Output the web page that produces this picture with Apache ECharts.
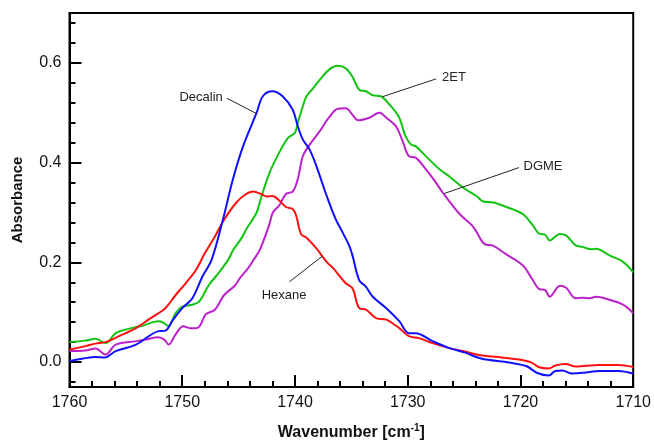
<!DOCTYPE html>
<html>
<head>
<meta charset="utf-8">
<script src="https://cdn.jsdelivr.net/npm/echarts@6/dist/echarts.min.js"></script>
<style>
  html, body { margin: 0; padding: 0; background: #fff; }
  #chart { width: 654px; height: 446px; }
</style>
</head>
<body>
<div id="chart"></div>
<script>
// FTIR carbonyl band of the same solute in four solvents

const hexaneWn = [1760, 1758.6, 1757.7, 1756.8, 1755.6, 1754.1, 1753.0, 1752.1, 1751.5, 1750.6, 1749.7, 1748.8, 1748.0, 1747.1, 1746.3, 1745.2, 1744.4, 1743.7, 1743.0, 1742.5, 1742.0, 1741.4, 1740.8, 1740.2, 1739.9, 1739.45, 1739.0, 1738.1, 1737.2, 1736.6, 1735.5, 1734.9, 1734.3, 1733.7, 1732.8, 1731.9, 1730.75, 1729.9, 1729.0, 1727.8, 1726.3, 1724.9, 1723.4, 1722.0, 1720.1, 1719.0, 1718.4, 1717.5, 1716.9, 1716.0, 1715.1, 1713.0, 1711.3, 1710];
const hexaneAbs = [0.025, 0.032, 0.037, 0.040, 0.052, 0.068, 0.085, 0.098, 0.108, 0.134, 0.158, 0.184, 0.218, 0.252, 0.285, 0.320, 0.336, 0.342, 0.337, 0.332, 0.333, 0.324, 0.311, 0.307, 0.294, 0.256, 0.250, 0.228, 0.201, 0.188, 0.158, 0.148, 0.108, 0.105, 0.088, 0.085, 0.068, 0.052, 0.048, 0.038, 0.028, 0.021, 0.013, 0.010, 0.005, -0.001, -0.010, -0.013, -0.007, -0.004, -0.009, -0.006, -0.006, -0.010];

const decalinWn = [1760, 1758.8, 1757.7, 1756.9, 1755.9, 1754.1, 1752.1, 1751.5, 1750.9, 1750.0, 1749.1, 1748.2, 1747.4, 1746.4, 1745.5, 1744.6, 1743.4, 1742.85, 1742.0, 1741.1, 1740.2, 1739.75, 1739.3, 1738.7, 1738.1, 1737.2, 1736.4, 1735.8, 1735.2, 1734.9, 1734.3, 1733.7, 1733.1, 1731.9, 1730.75, 1729.9, 1729.3, 1727.8, 1726.3, 1724.9, 1723.5, 1721.0, 1719.5, 1718.5, 1717.5, 1716.9, 1716.3, 1715.4, 1714.2, 1713.0, 1711.3, 1710];
const decalinAbs = [0.002, 0.007, 0.010, 0.009, 0.022, 0.035, 0.062, 0.063, 0.082, 0.108, 0.128, 0.172, 0.205, 0.285, 0.367, 0.433, 0.500, 0.533, 0.543, 0.533, 0.506, 0.473, 0.446, 0.426, 0.393, 0.334, 0.287, 0.261, 0.234, 0.214, 0.164, 0.151, 0.131, 0.108, 0.082, 0.058, 0.058, 0.042, 0.028, 0.019, 0.007, -0.001, -0.008, -0.022, -0.027, -0.018, -0.017, -0.023, -0.021, -0.018, -0.018, -0.023];

const etWn = [1760, 1758.6, 1757.7, 1756.8, 1755.9, 1754.7, 1753.5, 1752.1, 1751.7, 1751.2, 1750.6, 1750.0, 1749.1, 1748.5, 1747.65, 1746.8, 1745.9, 1745.5, 1744.7, 1744.3, 1743.4, 1743.0, 1742.25, 1741.4, 1740.6, 1740.0, 1739.75, 1739.3, 1739.0, 1738.4, 1737.8, 1737.0, 1736.2, 1735.5, 1734.9, 1734.3, 1733.7, 1733.1, 1732.4, 1731.6, 1730.75, 1730.2, 1729.7, 1729.3, 1728.4, 1727.2, 1726.3, 1725.1, 1723.9, 1723.3, 1722.4, 1721.25, 1719.8, 1718.9, 1718.3, 1717.85, 1717.4, 1716.5, 1715.95, 1715.1, 1714.5, 1713.7, 1713.3, 1712.1, 1710.9, 1710];
const etAbs = [0.040, 0.043, 0.047, 0.038, 0.058, 0.067, 0.073, 0.082, 0.079, 0.072, 0.098, 0.111, 0.115, 0.121, 0.154, 0.178, 0.206, 0.224, 0.250, 0.267, 0.300, 0.330, 0.380, 0.420, 0.450, 0.460, 0.480, 0.513, 0.532, 0.549, 0.566, 0.586, 0.594, 0.589, 0.572, 0.546, 0.543, 0.535, 0.533, 0.516, 0.490, 0.453, 0.436, 0.433, 0.413, 0.387, 0.372, 0.350, 0.333, 0.322, 0.320, 0.311, 0.297, 0.274, 0.257, 0.256, 0.244, 0.257, 0.254, 0.234, 0.231, 0.226, 0.227, 0.214, 0.201, 0.180];

const dgmeWn = [1760, 1758.6, 1757.7, 1756.8, 1755.9, 1754.1, 1753.25, 1752.1, 1751.6, 1751.2, 1750.6, 1749.9, 1749.3, 1748.8, 1748.45, 1747.9, 1747.1, 1746.3, 1745.3, 1744.9, 1744.1, 1743.7, 1743.1, 1742.3, 1741.96, 1741.4, 1740.8, 1740.2, 1739.75, 1739.3, 1738.7, 1737.8, 1737.0, 1736.2, 1735.5, 1734.9, 1734.4, 1733.4, 1732.8, 1732.5, 1731.9, 1731.05, 1730.5, 1729.9, 1729.3, 1728.4, 1727.5, 1726.9, 1725.4, 1724.3, 1723.9, 1723.2, 1722.4, 1721.25, 1719.8, 1718.9, 1718.3, 1717.85, 1717.4, 1716.5, 1715.95, 1715.1, 1714.5, 1713.85, 1713.3, 1712.1, 1710.9, 1710];
const dgmeAbs = [0.022, 0.023, 0.027, 0.015, 0.035, 0.042, 0.045, 0.050, 0.045, 0.035, 0.055, 0.072, 0.068, 0.068, 0.072, 0.096, 0.105, 0.134, 0.154, 0.168, 0.190, 0.204, 0.226, 0.274, 0.300, 0.314, 0.337, 0.342, 0.367, 0.413, 0.436, 0.463, 0.490, 0.508, 0.509, 0.496, 0.485, 0.490, 0.498, 0.500, 0.490, 0.473, 0.446, 0.413, 0.410, 0.387, 0.360, 0.340, 0.297, 0.274, 0.261, 0.237, 0.233, 0.216, 0.194, 0.164, 0.146, 0.145, 0.131, 0.153, 0.149, 0.128, 0.129, 0.128, 0.131, 0.125, 0.115, 0.098];

// axis ticks
const xMajorTicks = [1760, 1750, 1740, 1730, 1720, 1710];
const yMajorTicks = [0, 0.2, 0.4, 0.6];
const yMinorTicks = [-0.04, 0.04, 0.08, 0.12, 0.16, 0.24, 0.28, 0.32, 0.36, 0.44, 0.48, 0.52, 0.56, 0.64, 0.68];

// callouts in data coordinates: leader line from -> to, text anchor
const callouts = [
  { text: 'Decalin', from: [1743.38, 0.498], to: [1746.04, 0.529], at: [1746.4, 0.530], align: 'right' },
  { text: '2ET', from: [1732.26, 0.532], to: [1727.47, 0.568], at: [1726.95, 0.570], align: 'left' },
  { text: 'DGME', from: [1726.77, 0.338], to: [1720.13, 0.390], at: [1719.73, 0.393], align: 'left' },
  { text: 'Hexane', from: [1737.54, 0.213], to: [1740.49, 0.161], at: [1740.97, 0.1345], align: 'center' }
];

const FONT = 'Liberation Sans, Arial, sans-serif';

function pairs(xs, ys) { return xs.map((x, i) => [x, ys[i]]); }

function lineSeries(name, xs, ys, color) {
  return {
    name: name,
    type: 'line',
    data: pairs(xs, ys),
    smooth: 0.35,
    showSymbol: false,
    symbol: 'none',
    lineStyle: { color: color, width: 2 },
    itemStyle: { color: color },
    animation: false
  };
}

const chart = echarts.init(document.getElementById('chart'), null, { renderer: 'canvas' });

chart.setOption({
  animation: false,
  backgroundColor: '#fff',
  grid: {
    left: 69.5, right: 20, top: 13, bottom: 56,
    show: true, borderColor: '#000', borderWidth: 2, backgroundColor: 'transparent'
  },
  xAxis: {
    type: 'value',
    min: 1710, max: 1760, interval: 10,
    inverse: true,
    axisLine: { show: true, onZero: false, lineStyle: { color: '#000', width: 2 } },
    axisTick: { show: true, inside: true, length: 12, customValues: xMajorTicks, lineStyle: { color: '#000', width: 2 } },
    minorTick: { show: true, splitNumber: 5, length: 6, lineStyle: { color: '#000', width: 2 } },
    axisLabel: { color: '#111', fontSize: 16, fontFamily: FONT, margin: 8, customValues: xMajorTicks, formatter: v => String(v) },
    splitLine: { show: false },
    minorSplitLine: { show: false },
    name: '{t|Wavenumber [cm}{s|-1}{t|]}',
    nameLocation: 'middle',
    nameGap: 36,
    nameTextStyle: {
      rich: {
        t: { fontSize: 16, fontWeight: 'bold', fontFamily: FONT, color: '#111', lineHeight: 20 },
        s: { fontSize: 10, fontWeight: 'bold', fontFamily: FONT, color: '#111', verticalAlign: 'top', lineHeight: 20, padding: [0, 0, 6, 0] }
      }
    }
  },
  yAxis: [
    {
      type: 'value',
      min: -0.05, max: 0.7,
      position: 'left',
      axisLine: { show: true, onZero: false, lineStyle: { color: '#000', width: 2 } },
      axisTick: { show: true, inside: true, length: 12, customValues: yMajorTicks, lineStyle: { color: '#000', width: 2 } },
      axisLabel: { color: '#111', fontSize: 16, fontFamily: FONT, margin: 8, customValues: yMajorTicks, formatter: v => v.toFixed(1) },
      splitLine: { show: false },
      name: 'Absorbance',
      nameLocation: 'middle',
      nameGap: 44,
      nameTextStyle: { fontSize: 15, fontWeight: 'bold', fontFamily: FONT, color: '#111' }
    },
    {
      type: 'value',
      min: -0.05, max: 0.7,
      position: 'left',
      axisLine: { show: false },
      axisTick: { show: true, inside: true, length: 6, customValues: yMinorTicks, lineStyle: { color: '#000', width: 2 } },
      axisLabel: { show: false },
      splitLine: { show: false }
    }
  ],
  series: [
    lineSeries('2ET', etWn, etAbs, '#12c312'),
    lineSeries('DGME', dgmeWn, dgmeAbs, '#bb22cc'),
    lineSeries('Hexane', hexaneWn, hexaneAbs, '#ff1010'),
    lineSeries('Decalin', decalinWn, decalinAbs, '#1010ff')
  ]
});

// leader lines and callout text, positioned through the chart's own scales
const graphics = [];
callouts.forEach(c => {
  const p1 = chart.convertToPixel({ gridIndex: 0 }, c.from);
  const p2 = chart.convertToPixel({ gridIndex: 0 }, c.to);
  const pt = chart.convertToPixel({ gridIndex: 0 }, c.at);
  graphics.push({
    type: 'line',
    shape: { x1: p1[0], y1: p1[1], x2: p2[0], y2: p2[1] },
    style: { stroke: '#222', lineWidth: 1 },
    z: 10
  });
  graphics.push({
    type: 'text',
    x: pt[0], y: pt[1],
    style: {
      text: c.text, fill: '#222', font: '13px ' + FONT,
      textAlign: c.align, textVerticalAlign: 'middle'
    },
    z: 10
  });
});
chart.setOption({ graphic: graphics });
</script>
</body>
</html>
